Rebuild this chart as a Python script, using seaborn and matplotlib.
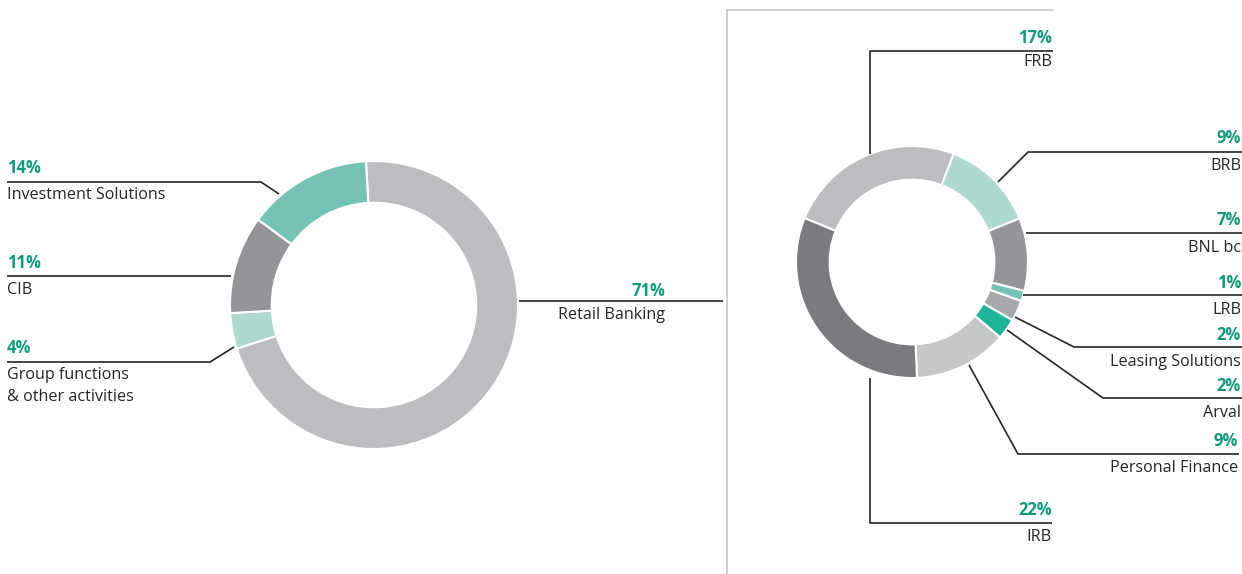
import matplotlib
matplotlib.use("Agg")
import matplotlib.pyplot as plt
import seaborn as sns

# ---- data ----
left_labels = ["Retail Banking", "Group functions\n& other activities", "CIB", "Investment Solutions"]
left_values = [71, 4, 11, 14]
left_colors = ["#bcbdc0", "#afd9ce", "#939598", "#76c3b3"]

right_labels = ["BRB", "BNL bc", "LRB", "Leasing Solutions", "Arval", "Personal Finance", "IRB", "FRB"]
right_values = [9, 7, 1, 2, 2, 9, 22, 17]
right_colors = ["#afd9ce", "#939598", "#76c3b3", "#a7a9ac", "#1fb39a", "#c6c7c8", "#7a7b7e", "#bcbdc0"]

W, H = 1242, 574
TEAL = "#10997a"
DARK = "#262626"

sns.set_theme(style="white")
plt.rcParams["font.family"] = ["Open Sans", "DejaVu Sans"]


def Y(y):
    # pixel row -> data y (axis points up)
    return H - y


fig = plt.figure(figsize=(W / 100, H / 100), dpi=100)
ax = fig.add_axes([0, 0, 1, 1])

# donuts
ax.pie(left_values, colors=left_colors, startangle=93.2, counterclock=False,
       center=(374, Y(305)), radius=144,
       wedgeprops=dict(width=144 * 0.29, edgecolor="white", linewidth=1.5))
ax.pie(right_values, colors=right_colors, startangle=69, counterclock=False,
       center=(912, Y(262)), radius=116,
       wedgeprops=dict(width=116 * 0.29, edgecolor="white", linewidth=1.5))

ax.set_xlim(0, W)
ax.set_ylim(0, H)
ax.set_aspect("equal")
ax.axis("off")

# label layout: (leader polyline in px, text x, pct y, label y, align)
layout = {
    "Investment Solutions": ([(7, 182), (261, 182), (279, 194)], 7, 168, 195, "left"),
    "CIB": ([(7, 276), (231, 276)], 7, 263, 290, "left"),
    "Group functions\n& other activities": ([(7, 362), (210, 362), (234, 347)], 7, 348, 386, "left"),
    "Retail Banking": ([(519, 301), (723, 301)], 665, 291, 315, "right"),
    "FRB": ([(870, 154), (870, 51), (1053, 51)], 1052, 38, 62, "right"),
    "BRB": ([(998, 182), (1028, 152), (1242, 152)], 1241, 138, 166, "right"),
    "BNL bc": ([(1026, 233), (1242, 233)], 1241, 220, 248, "right"),
    "LRB": ([(1023, 295), (1242, 295)], 1241, 283, 310, "right"),
    "Leasing Solutions": ([(1015, 317), (1074, 347), (1242, 347)], 1241, 335, 362, "right"),
    "Arval": ([(1007, 330), (1103, 398), (1242, 398)], 1241, 386, 413, "right"),
    "Personal Finance": ([(969, 365), (1018, 454), (1239, 454)], 1238, 441, 468, "right"),
    "IRB": ([(870, 378), (870, 523), (1052, 523)], 1052, 510, 537, "right"),
}

pct = dict(zip(left_labels, left_values))
pct.update(zip(right_labels, right_values))

for name, (pts, tx, py, ly, ha) in layout.items():
    xs = [p[0] for p in pts]
    ys = [Y(p[1]) for p in pts]
    ax.plot(xs, ys, color=DARK, lw=1.2, solid_capstyle="butt")
    ax.text(tx, Y(py), f"{pct[name]}%", ha=ha, va="center", color=TEAL,
            fontsize=12, fontweight="bold")
    ax.text(tx, Y(ly), name, ha=ha, va="center", color=DARK, fontsize=11.6,
            fontweight="medium", linespacing=1.45)

# light frame around the right-hand panel
ax.plot([727, 727, 1053], [Y(574), Y(10), Y(10)], color="#c8c8c8", lw=1.2)

fig.savefig("out.png", dpi=100, facecolor="white")
